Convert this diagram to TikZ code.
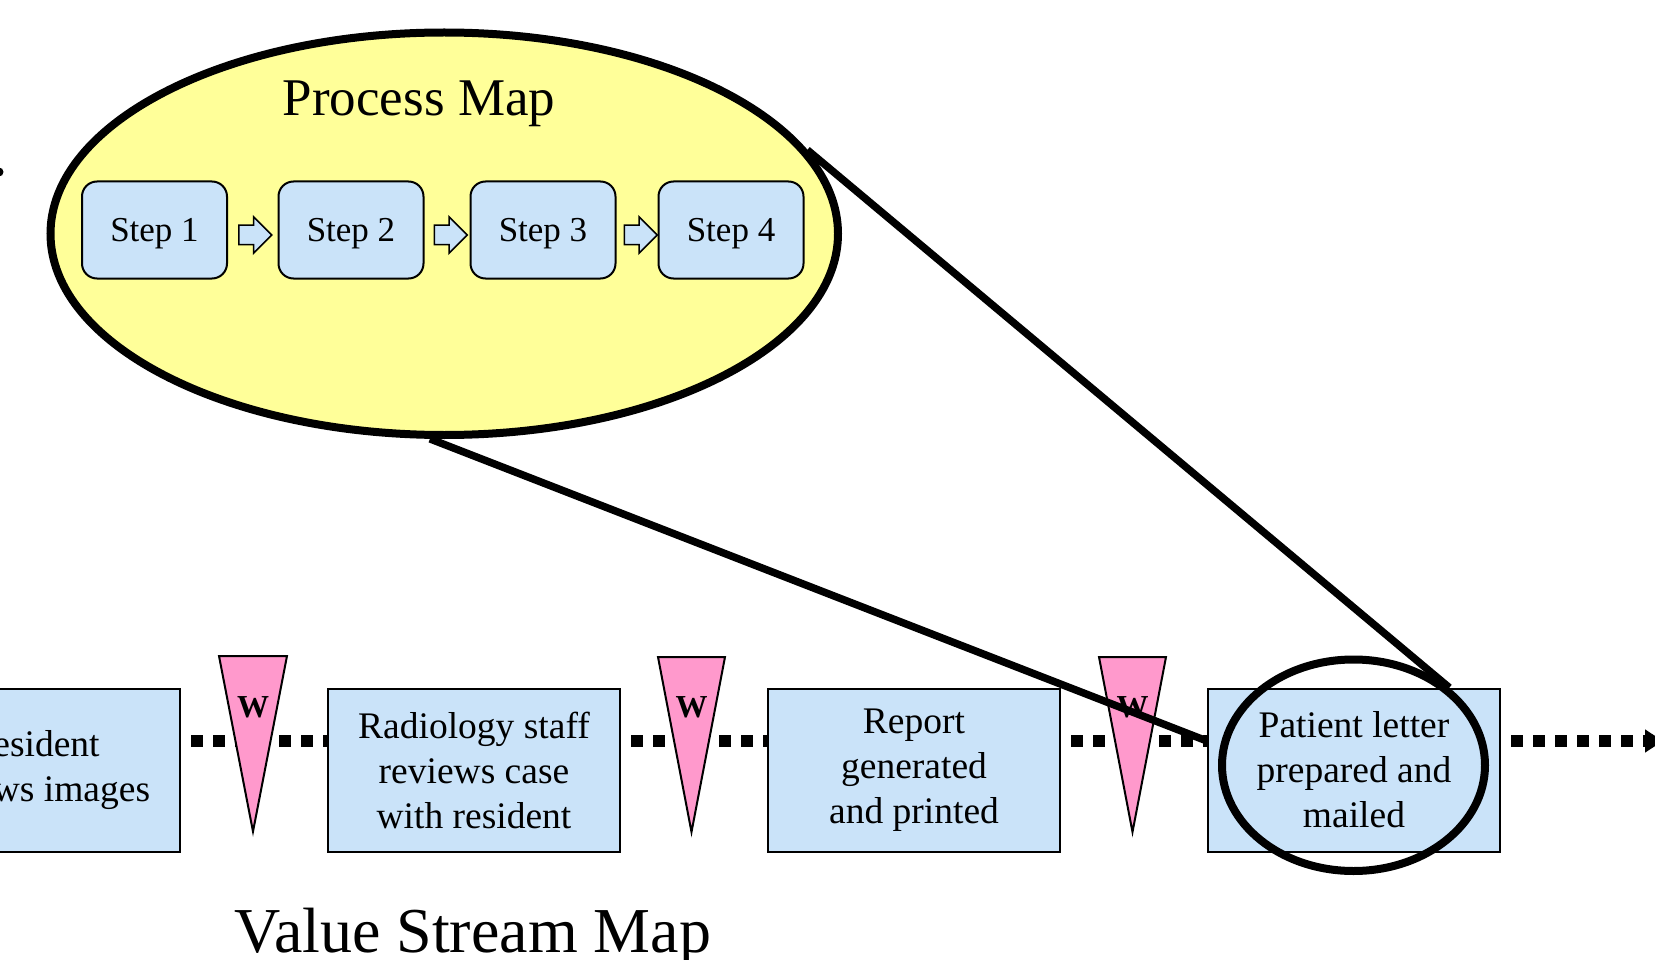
\documentclass[tikz,border=0pt]{standalone}
\usepackage{fontspec}
\setmainfont{Liberation Serif}
\usepackage{xcolor}
\usepackage{tikz}
\usetikzlibrary{positioning,shapes.geometric,shapes.arrows,arrows.meta}
\definecolor{mapyellow}{HTML}{FFFF99}
\definecolor{stepblue}{HTML}{CAE3F9}
\definecolor{waitpink}{HTML}{FF99CC}

\begin{document}
\begin{tikzpicture}[x=1pt, y=-1pt,
oval/.style={ellipse, draw=black, line width=8pt, inner sep=0pt},
stepbox/.style={rectangle, rounded corners=15pt, draw=black, fill=stepblue, line width=2pt, minimum width=145pt, minimum height=97pt, text depth=0pt, font=\fontsize{35}{40}\selectfont},
stepflow/.style={single arrow, draw=black, fill=stepblue, line width=1.5pt, minimum height=33pt, inner sep=9pt, single arrow head extend=8.5pt},
vsmbox/.style={rectangle, draw=black, fill=stepblue, line width=2pt, minimum width=292pt, minimum height=163pt, align=center, font=\fontsize{37.5}{45}\selectfont},
wait/.style={draw=black, fill=waitpink, line width=2pt, line join=miter},
waitlabel/.style={font=\fontsize{32}{32}\selectfont\bfseries},
flow/.style={line width=12pt, dash pattern=on 12pt off 10pt, dash phase=12pt},
zoomline/.style={line width=7.5pt}
]
\useasboundingbox (0,0) rectangle (1655,960);
\clip (0,0) rectangle (1655,960);

% process map
\node[oval, fill=mapyellow, minimum width=787.5pt, minimum height=402.5pt](procmap) at (444.25,233.75){};
\node[font=\fontsize{53}{60}\selectfont, anchor=base](pmtitle) at (419,116){Process Map};
\node[stepbox](s1) at (154.5,230){Step 1};
\node[stepbox](s2)[right=49.5pt of s1]{Step 2};
\node[stepbox](s3)[right=45pt of s2]{Step 3};
\node[stepbox](s4)[right=41pt of s3]{Step 4};
\node[stepflow](f1)[right=10pt of s1, yshift=-5pt]{};
\node[stepflow](f2)[right=9pt of s2, yshift=-5pt]{};
\node[stepflow](f3)[right=7pt of s3, yshift=-5pt]{};
\fill (-1,172) circle (4.5pt);

% value stream map
\node[vsmbox](b1) at (34,770){Resident\\reviews images};
\node[vsmbox](b2)[right=146pt of b1]{Radiology staff\\reviews case\\with resident};
\node[vsmbox](b3)[right=146pt of b2]{Report\\generated\\and printed};
\node[vsmbox](b4)[right=146pt of b3]{Patient letter\\prepared and\\mailed};
\node[font=\fontsize{64}{70}\selectfont, anchor=base](vsmtitle) at (473,952){Value Stream Map};
\coordinate (vsmend) at (1663,741);

\draw[flow] ([yshift=29pt]b1.east) -- ([yshift=29pt]b2.west);
\draw[flow] ([yshift=29pt]b2.east) -- ([yshift=29pt]b3.west);
\draw[flow] ([yshift=29pt]b3.east) -- ([yshift=29pt]b4.west);
\draw[flow, -{Triangle[width=22pt,length=18pt]}] ([yshift=29pt]b4.east) -- (vsmend);

\draw[wait] (219,656) -- (287,656) -- (253,831.5) -- cycle;
\node[waitlabel](w1) at (253,707){W};
\draw[wait] (658,657) -- (725,657) -- (691.5,832) -- cycle;
\node[waitlabel](w2) at (691.5,707){W};
\draw[wait] (1099,657) -- (1166,657) -- (1132.5,832) -- cycle;
\node[waitlabel](w3) at (1132.5,707){W};

% zoom
\node[oval, minimum width=263pt, minimum height=211.5pt](focus) at (1353.5,765.25){};
\draw[zoomline] (procmap.266) -- ([yshift=29pt]b4.west);
\draw[zoomline] (procmap.13) -- (focus.39);

\end{tikzpicture}
\end{document}
